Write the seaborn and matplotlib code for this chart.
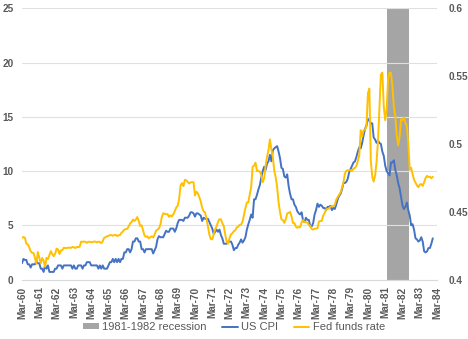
import numpy as np
import pandas as pd
import matplotlib
matplotlib.use("Agg")
import matplotlib.pyplot as plt
import seaborn as sns

# Monthly data, Mar-1960 .. Dec-1983
start_label = "Mar-60"
cpi = [
    # 1960 Mar-Dec
    1.5, 1.9, 1.8, 1.8, 1.4, 1.4, 1.1, 1.4, 1.4, 1.4,
    # 1961
    1.7, 1.5, 1.5, 1.0, 1.0, 0.7, 1.3, 1.0, 1.3, 0.7, 0.7, 0.7,
    # 1962
    0.7, 1.0, 1.0, 1.3, 1.3, 1.3, 1.0, 1.3, 1.3, 1.3, 1.3, 1.3,
    # 1963
    1.3, 1.0, 1.3, 1.0, 1.0, 1.3, 1.3, 1.3, 1.0, 1.3, 1.3, 1.6,
    # 1964
    1.6, 1.6, 1.3, 1.3, 1.3, 1.3, 1.3, 1.0, 1.3, 1.0, 1.3, 1.0,
    # 1965
    1.0, 1.0, 1.3, 1.6, 1.6, 1.9, 1.6, 1.9, 1.6, 1.9, 1.6, 1.9,
    # 1966
    1.9, 2.5, 2.5, 2.8, 2.8, 2.5, 2.8, 3.5, 3.5, 3.8, 3.8, 3.5,
    # 1967
    3.5, 2.8, 2.8, 2.5, 2.8, 2.8, 2.8, 2.8, 2.8, 2.4, 2.7, 3.0,
    # 1968
    3.7, 4.0, 3.9, 3.9, 3.9, 4.2, 4.5, 4.4, 4.4, 4.7, 4.7, 4.7,
    # 1969
    4.4, 4.7, 5.2, 5.5, 5.5, 5.5, 5.4, 5.7, 5.7, 5.7, 5.9, 6.2,
    # 1970
    6.2, 6.1, 5.8, 6.1, 6.1, 6.0, 5.9, 5.4, 5.7, 5.6, 5.6, 5.6,
    # 1971
    5.3, 5.0, 4.7, 4.2, 4.4, 4.6, 4.4, 4.6, 4.1, 3.8, 3.3, 3.3,
    # 1972
    3.3, 3.5, 3.5, 3.5, 3.2, 2.7, 2.9, 2.9, 3.2, 3.4, 3.7, 3.4,
    # 1973
    3.6, 3.9, 4.6, 5.1, 5.5, 6.0, 5.7, 7.4, 7.4, 7.8, 8.3, 8.7,
    # 1974
    9.4, 10.0, 10.4, 10.1, 10.7, 10.9, 11.5, 10.9, 11.9, 12.1, 12.2, 12.3,
    # 1975
    11.8, 11.2, 10.3, 10.2, 9.5, 9.4, 9.7, 8.6, 7.9, 7.4, 7.4, 6.9,
    # 1976
    6.7, 6.3, 6.1, 6.0, 6.2, 5.4, 5.3, 5.7, 5.5, 5.5, 4.9, 4.9,
    # 1977
    5.2, 6.0, 6.4, 7.0, 6.7, 6.9, 6.8, 6.6, 6.6, 6.4, 6.7, 6.7,
    # 1978
    6.8, 6.4, 6.6, 6.5, 6.9, 7.4, 7.7, 7.9, 8.3, 8.9, 8.9, 9.0,
    # 1979
    9.3, 9.9, 10.2, 10.5, 10.8, 10.9, 11.3, 11.8, 12.2, 12.1, 12.6, 13.3,
    # 1980
    13.9, 14.2, 14.8, 14.7, 14.4, 14.4, 13.1, 12.9, 12.6, 12.8, 12.6, 12.5,
    # 1981
    11.8, 11.4, 10.5, 10.0, 9.8, 9.6, 10.8, 10.8, 11.0, 10.1, 9.6, 8.9,
    # 1982
    8.4, 7.6, 6.8, 6.5, 6.7, 7.1, 6.4, 5.9, 5.0, 5.1, 4.6, 3.8,
    # 1983
    3.7, 3.5, 3.6, 3.9, 3.5, 2.6, 2.5, 2.6, 2.9, 2.9, 3.3, 3.8,
]
fed_funds = [
    # 1960 Mar-Dec
    3.84, 3.92, 3.85, 3.32, 3.23, 2.98, 2.60, 2.47, 2.44, 1.98,
    # 1961
    1.45, 2.54, 2.02, 1.49, 1.98, 1.73, 1.17, 2.00, 1.88, 2.26, 2.62, 2.33,
    # 1962
    2.15, 2.37, 2.85, 2.78, 2.36, 2.68, 2.71, 2.93, 2.90, 2.90, 2.94, 2.93,
    # 1963
    2.92, 3.00, 2.98, 2.90, 3.00, 2.99, 3.02, 3.49, 3.48, 3.50, 3.48, 3.38,
    # 1964
    3.48, 3.48, 3.43, 3.47, 3.50, 3.50, 3.42, 3.50, 3.45, 3.36, 3.52, 3.85,
    # 1965
    3.90, 3.98, 4.04, 4.09, 4.10, 4.04, 4.09, 4.12, 4.01, 4.08, 4.10, 4.32,
    # 1966
    4.42, 4.60, 4.65, 4.67, 4.90, 5.17, 5.30, 5.53, 5.40, 5.53, 5.76, 5.40,
    # 1967
    4.94, 5.00, 4.53, 4.05, 3.94, 3.98, 3.79, 3.90, 3.99, 3.88, 4.13, 4.51,
    # 1968
    4.60, 4.71, 5.05, 5.76, 6.11, 6.07, 6.02, 6.03, 5.78, 5.91, 5.82, 6.02,
    # 1969
    6.30, 6.64, 6.79, 7.41, 8.67, 8.90, 8.61, 9.19, 9.15, 9.00, 8.85, 8.97,
    # 1970
    8.98, 8.98, 7.76, 8.10, 7.95, 7.61, 7.21, 6.61, 6.29, 6.20, 5.60, 4.90,
    # 1971
    4.14, 3.72, 3.71, 4.16, 4.63, 4.91, 5.31, 5.56, 5.55, 5.20, 4.91, 4.14,
    # 1972
    3.50, 3.29, 3.83, 4.17, 4.27, 4.46, 4.55, 4.80, 4.87, 5.04, 5.06, 5.33,
    # 1973
    5.94, 6.58, 7.09, 7.12, 7.84, 8.49, 10.40, 10.50, 10.78, 10.01, 10.03, 9.95,
    # 1974
    9.65, 8.97, 9.35, 10.51, 11.31, 11.93, 12.92, 12.01, 11.34, 10.06, 9.45, 8.53,
    # 1975
    7.13, 6.24, 5.54, 5.49, 5.22, 5.55, 6.10, 6.14, 6.24, 5.82, 5.22, 5.20,
    # 1976
    4.87, 4.77, 4.84, 4.82, 5.29, 5.48, 5.31, 5.29, 5.25, 5.03, 4.95, 4.65,
    # 1977
    4.61, 4.68, 4.69, 4.73, 5.35, 5.39, 5.42, 5.90, 6.14, 6.47, 6.51, 6.56,
    # 1978
    6.70, 6.78, 6.79, 6.89, 7.36, 7.60, 7.81, 8.04, 8.45, 8.96, 9.76, 10.03,
    # 1979
    10.07, 10.06, 10.09, 10.01, 10.24, 10.29, 10.47, 10.94, 11.43, 13.77, 13.18, 13.78,
    # 1980
    13.82, 14.13, 17.19, 17.61, 10.98, 9.47, 9.03, 9.61, 10.87, 12.81, 15.85, 18.90,
    # 1981
    19.08, 15.93, 14.70, 15.72, 18.52, 19.10, 19.04, 17.82, 15.87, 15.08, 13.31, 12.37,
    # 1982
    13.22, 14.78, 14.68, 14.94, 14.45, 14.15, 12.59, 10.12, 10.31, 9.71, 9.20, 8.95,
    # 1983
    8.68, 8.51, 8.77, 8.80, 8.63, 8.98, 9.37, 9.56, 9.45, 9.48, 9.34, 9.47,
]
# recession bar (secondary axis), months counted from Mar-60
recession_months = list(range(254, 269))
recession_values = [0.6] * len(recession_months)

tick_labels = ["Mar-%02d" % y for y in range(60, 85)]
left_ticks = [0, 5, 10, 15, 20, 25]
right_ticks = [0.4, 0.45, 0.5, 0.55, 0.6]

months = np.arange(len(cpi))
df = pd.DataFrame({"month": months, "US CPI": cpi, "Fed funds rate": fed_funds})

sns.set_theme(style="white")
plt.rcParams["font.family"] = ["Liberation Sans", "DejaVu Sans"]

fig = plt.figure(figsize=(4.68, 3.39), dpi=100)
ax = fig.add_axes([0.047, 0.1755, 0.887, 0.7995])
ax2 = ax.twinx()

blue = "#4472C4"
orange = "#FFC000"
gray = "#A5A5A5"
tick_color = "#595959"

# recession bars on secondary axis
ax2.bar(recession_months, [v - 0.4 for v in recession_values], bottom=0.4,
        width=1.0, color=gray, linewidth=0, label="1981-1982 recession", zorder=1)
ax2.set_ylim(0.4, 0.6)
ax2.set_yticks(right_ticks)
ax2.set_yticklabels(["0.4", "0.45", "0.5", "0.55", "0.6"])

ax.set_zorder(ax2.get_zorder() + 1)
ax.patch.set_visible(False)

sns.lineplot(data=df, x="month", y="US CPI", ax=ax, color=blue, linewidth=1.4, label="US CPI")
sns.lineplot(data=df, x="month", y="Fed funds rate", ax=ax, color=orange, linewidth=1.4, label="Fed funds rate")

ax.set_xlim(0, 288)
ax.set_ylim(0, 25)
ax.set_yticks(left_ticks)
ax.set_xticks(np.arange(0, 289, 12))
ax.set_xticklabels(tick_labels, rotation=90)
ax.set_xlabel("")
ax.set_ylabel("")
ax2.set_ylabel("")

for a in (ax, ax2):
    for s in a.spines.values():
        s.set_visible(False)
ax.spines["bottom"].set_visible(True)
ax.spines["bottom"].set_color("#D9D9D9")
ax.spines["bottom"].set_linewidth(0.8)

ax.grid(axis="y", color="#E0E0E0", linewidth=0.8)
ax.grid(axis="x", visible=False)
ax2.grid(False)

ax.tick_params(axis="y", length=0, labelsize=7.2, labelcolor=tick_color, pad=6)
ax.tick_params(axis="x", length=3, color="#D9D9D9", labelsize=7.2, labelcolor=tick_color, pad=2)
ax2.tick_params(axis="y", length=0, labelsize=7.2, labelcolor=tick_color, pad=8)
for lbl in ax.get_xticklabels() + ax.get_yticklabels() + ax2.get_yticklabels():
    lbl.set_fontweight("bold")

# legend
h1, l1 = ax2.get_legend_handles_labels()
h2, l2 = ax.get_legend_handles_labels()
if ax.get_legend():
    ax.get_legend().remove()
fig.legend(h1 + h2, l1 + l2, loc="center", bbox_to_anchor=(0.5, 0.035), ncol=3,
           frameon=False, fontsize=8, handlelength=1.4, handleheight=0.5,
           handletextpad=0.3, columnspacing=1.4, labelcolor=tick_color)

fig.savefig("out.png", dpi=100)
